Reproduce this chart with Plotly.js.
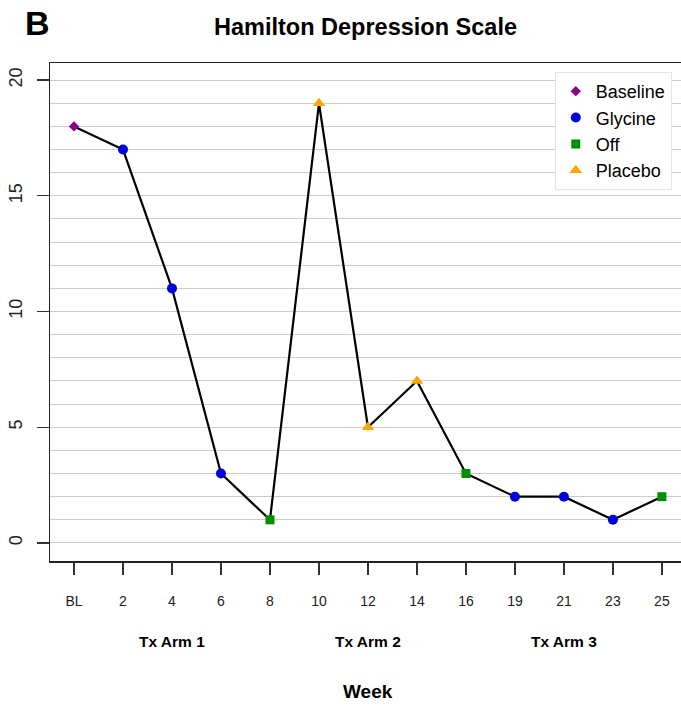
<!DOCTYPE html>
<html>
<head>
<meta charset="utf-8">
<script src="https://cdn.plot.ly/plotly-3.0.1.min.js"></script>
<style>html,body{margin:0;padding:0;background:#fff;}#chart{width:681px;height:706px;}</style>
</head>
<body>
<div id="chart"></div>
<script>
// Data
const weeks = ["BL","2","4","6","8","10","12","14","16","19","21","23","25"];
const scores = [18, 17, 11, 3, 1, 19, 5, 7, 3, 2, 2, 1, 2];
const phases = ["Baseline","Glycine","Glycine","Glycine","Off","Placebo","Placebo","Placebo","Off","Glycine","Glycine","Glycine","Off"];
const groups = ["Baseline","Glycine","Off","Placebo"];
const groupColors = ["#8B008B","#0000DD","#009000","#FFA500"];
const groupSymbols = ["diamond","circle","square","triangle-up"];
const groupSizes = [8, 10, 9, 11];
const armLabels = ["Tx Arm 1","Tx Arm 2","Tx Arm 3"];
const armCenters = [2, 6, 10];   // category index of "4", "12", "21"
const weekCenter = 6;
const yTicks = [0,5,10,15,20];

const FONT = "Liberation Sans, Arial, Helvetica, sans-serif";

const traces = [{
  x: weeks, y: scores, type: "scatter", mode: "lines",
  line: {color: "#000", width: 2.2}, showlegend: false, hoverinfo: "skip"
}];
groups.forEach((g, gi) => {
  const xs = [], ys = [];
  phases.forEach((p, i) => { if (p === g) { xs.push(weeks[i]); ys.push(scores[i]); } });
  traces.push({
    x: xs, y: ys, type: "scatter", mode: "markers", name: g,
    marker: {color: groupColors[gi], symbol: groupSymbols[gi], size: groupSizes[gi], line: {width: 0}}
  });
});

const annotations = [
  {text: "<b>B</b>", xref: "paper", yref: "paper", x: -0.02, y: 1.08, showarrow: false,
   font: {family: FONT, size: 34, color: "#000"}, xanchor: "center", yanchor: "middle"},
  {text: "<b>Hamilton Depression Scale</b>", xref: "paper", yref: "paper", x: 0.5, y: 1.072, showarrow: false,
   font: {family: FONT, size: 23.5, color: "#000"}, xanchor: "center", yanchor: "middle"},
  {text: "<b>Week</b>", xref: "x", yref: "paper", x: weekCenter, y: -0.263, showarrow: false,
   font: {family: FONT, size: 19, color: "#000"}, xanchor: "center", yanchor: "middle"}
];
armLabels.forEach((a, i) => {
  annotations.push({text: "<b>" + a + "</b>", xref: "x", yref: "paper", x: armCenters[i], y: -0.161,
    showarrow: false, font: {family: FONT, size: 15.5, color: "#000"}, xanchor: "center", yanchor: "middle"});
});

const layout = {
  width: 681, height: 706,
  margin: {l: 50, r: 0, t: 63, b: 145, pad: 0},
  paper_bgcolor: "#fff", plot_bgcolor: "#fff",
  font: {family: FONT, color: "#000"},
  showlegend: true,
  legend: {
    x: 0.800, y: 0.982, xanchor: "left", yanchor: "top",
    bgcolor: "#fff", bordercolor: "#e4e4e4", borderwidth: 1,
    font: {family: FONT, size: 18, color: "#000"},
    tracegroupgap: 0, itemwidth: 30
  },
  xaxis: {
    type: "category", categoryorder: "array", categoryarray: weeks,
    range: [-0.49, 12.39], autorange: false,
    showgrid: false, zeroline: false,
    showline: true, linecolor: "#222", linewidth: 1.5, mirror: true,
    ticks: "outside", ticklen: 12, tickwidth: 1.3, tickcolor: "#333",
    ticklabelstandoff: 15,
    tickfont: {family: FONT, size: 14, color: "#222"}
  },
  yaxis: {
    range: [-0.78, 20.74], autorange: false,
    tickvals: yTicks, ticktext: yTicks.map(String),
    showgrid: true, gridcolor: "#cccccc", gridwidth: 1,
    minor: {dtick: 1, tick0: 0, showgrid: true, gridcolor: "#cccccc", gridwidth: 1, ticks: ""},
    zeroline: false,
    showline: true, linecolor: "#222", linewidth: 1.5,
    ticks: "outside", ticklen: 12, tickwidth: 1.3, tickcolor: "#333",
    tickangle: -90, ticklabelstandoff: 7,
    tickfont: {family: FONT, size: 18, color: "#222"}
  },
  annotations: annotations
};

Plotly.newPlot("chart", traces, layout, {staticPlot: true, displayModeBar: false});
</script>
</body>
</html>
